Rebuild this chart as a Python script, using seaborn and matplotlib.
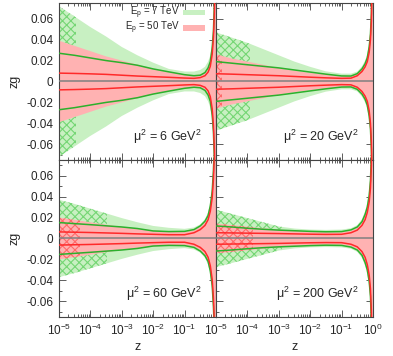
import numpy as np
import pandas as pd
import matplotlib
matplotlib.use("Agg")
import matplotlib.pyplot as plt
import seaborn as sns
from matplotlib.patches import Rectangle
from matplotlib.ticker import FixedLocator, LogLocator, NullFormatter, MultipleLocator

# ---------------- data ----------------
log10_z = [-5, -4.5, -4, -3.5, -3, -2.5, -2, -1.5, -1, -0.7, -0.5, -0.35,
           -0.25, -0.18, -0.12, -0.08, -0.05, -0.03, -0.015, 0]

mu2_values = ["6", "20", "60", "200"]

# half widths (upper edge; the lower edge is the mirror image)
green_band_mu6 = [0.072, 0.062, 0.052, 0.043, 0.033, 0.025, 0.018, 0.012, 0.0095, 0.0095,
                  0.011, 0.014, 0.019, 0.025, 0.036, 0.052, 0.08, 0.12, 0.22, 0.5]
red_band_mu6 = [0.039, 0.034, 0.029, 0.024, 0.02, 0.016, 0.012, 0.0088, 0.0068, 0.0062,
                0.0065, 0.009, 0.0135, 0.0195, 0.03, 0.046, 0.072, 0.115, 0.21, 0.5]
green_line_mu6 = [0.027, 0.025, 0.0225, 0.02, 0.018, 0.0155, 0.012, 0.0092, 0.0065, 0.0055,
                  0.006, 0.0085, 0.013, 0.019, 0.032, 0.048, 0.075, 0.115, 0.2, 0.5]
red_line_mu6 = [0.008, 0.0077, 0.0073, 0.0068, 0.006, 0.0052, 0.0046, 0.004, 0.0033, 0.003,
                0.0037, 0.0055, 0.009, 0.0145, 0.026, 0.042, 0.066, 0.105, 0.19, 0.5]

green_band_mu20 = [0.047, 0.042, 0.037, 0.031, 0.025, 0.019, 0.014, 0.0097, 0.0075, 0.0075,
                   0.0095, 0.0145, 0.02, 0.026, 0.037, 0.05, 0.072, 0.11, 0.2, 0.5]
red_band_mu20 = [0.026, 0.022, 0.019, 0.016, 0.0128, 0.0102, 0.0083, 0.0068, 0.0057, 0.0054,
                 0.0072, 0.0115, 0.0165, 0.022, 0.032, 0.044, 0.064, 0.1, 0.19, 0.5]
green_line_mu20 = [0.019, 0.0175, 0.016, 0.0145, 0.013, 0.011, 0.009, 0.007, 0.0053, 0.0052,
                   0.0075, 0.012, 0.017, 0.0227, 0.033, 0.045, 0.065, 0.1, 0.18, 0.5]
red_line_mu20 = [0.0074, 0.007, 0.0065, 0.006, 0.0055, 0.0048, 0.0041, 0.0035, 0.003, 0.0032,
                 0.0055, 0.0095, 0.014, 0.019, 0.028, 0.04, 0.058, 0.092, 0.18, 0.5]

green_band_mu60 = [0.037, 0.033, 0.0285, 0.024, 0.0195, 0.0155, 0.012, 0.0102, 0.0092, 0.0105,
                   0.0135, 0.0185, 0.025, 0.034, 0.049, 0.07, 0.1, 0.15, 0.23, 0.5]
red_band_mu60 = [0.02, 0.0178, 0.0155, 0.0132, 0.011, 0.0092, 0.0078, 0.0068, 0.0062, 0.0082,
                 0.0115, 0.016, 0.0215, 0.03, 0.044, 0.063, 0.09, 0.14, 0.22, 0.5]
green_line_mu60 = [0.0152, 0.0142, 0.0132, 0.0121, 0.011, 0.0095, 0.0072, 0.0066, 0.0068, 0.0085,
                   0.012, 0.0165, 0.022, 0.031, 0.045, 0.065, 0.09, 0.14, 0.22, 0.5]
red_line_mu60 = [0.0063, 0.006, 0.0057, 0.0053, 0.0049, 0.0044, 0.004, 0.0036, 0.0036, 0.0055,
                 0.0085, 0.0125, 0.018, 0.026, 0.039, 0.057, 0.082, 0.12, 0.2, 0.5]

green_band_mu200 = [0.0275, 0.0235, 0.0195, 0.0155, 0.0115, 0.0095, 0.0085, 0.0082, 0.0085, 0.0098,
                    0.0128, 0.0185, 0.026, 0.034, 0.046, 0.062, 0.09, 0.135, 0.22, 0.5]
red_band_mu200 = [0.0143, 0.0128, 0.0113, 0.0098, 0.0085, 0.0074, 0.0065, 0.006, 0.006, 0.0075,
                  0.0105, 0.0155, 0.022, 0.029, 0.04, 0.054, 0.079, 0.12, 0.2, 0.5]
green_line_mu200 = [0.012, 0.011, 0.0098, 0.0088, 0.008, 0.0074, 0.0068, 0.0064, 0.0066, 0.0082,
                    0.011, 0.016, 0.023, 0.03, 0.041, 0.055, 0.08, 0.12, 0.2, 0.5]
red_line_mu200 = [0.0055, 0.0053, 0.0051, 0.0049, 0.0047, 0.0044, 0.0041, 0.0039, 0.004, 0.0055,
                  0.008, 0.0125, 0.018, 0.025, 0.035, 0.048, 0.07, 0.11, 0.19, 0.5]

# log10(z) where the hatched (extrapolated) regions end
green_hatch_end = [-4.46, -3.92, -3.47, -2.9]
red_hatch_end = [None, -4.8, -4.34, -3.81]

legend_labels = ["E$_\\mathrm{p}$ = 7 TeV", "E$_\\mathrm{p}$ = 50 TeV"]
xtick_labels = ["$10^{-5}$", "$10^{-4}$", "$10^{-3}$", "$10^{-2}$", "$10^{-1}$", "$10^{0}$"]
ytick_values = [-0.06, -0.04, -0.02, 0, 0.02, 0.04, 0.06]
ytick_labels = ["-0.06", "-0.04", "-0.02", "0", "0.02", "0.04", "0.06"]

# ---------------- style ----------------
sns.set_style("ticks")
plt.rcParams["font.family"] = ["Liberation Sans", "DejaVu Sans"]
plt.rcParams["mathtext.fontset"] = "custom"
plt.rcParams["mathtext.rm"] = "Liberation Sans"
plt.rcParams["mathtext.it"] = "Liberation Sans:italic"
plt.rcParams["mathtext.bf"] = "Liberation Sans:bold"
plt.rcParams["hatch.linewidth"] = 0.8

GREEN_FILL = "#c8f0c2"
RED_FILL = "#ffb2b2"
GREEN_LINE = "#2cb02c"
RED_LINE = "#ff2a2a"
GREEN_HATCH = "#74d674"
RED_HATCH = "#ff6a6a"
FRAME = "#444444"

panels = [
    (green_band_mu6, red_band_mu6, green_line_mu6, red_line_mu6),
    (green_band_mu20, red_band_mu20, green_line_mu20, red_line_mu20),
    (green_band_mu60, red_band_mu60, green_line_mu60, red_line_mu60),
    (green_band_mu200, red_band_mu200, green_line_mu200, red_line_mu200),
]

z = 10.0 ** np.array(log10_z)

fig, axes = plt.subplots(2, 2, figsize=(3.93, 3.56), dpi=100)
fig.subplots_adjust(left=0.150, right=0.949, top=0.9916, bottom=0.1096,
                    wspace=0, hspace=0)


def hatch(ax, lo, hi, xend, color):
    coll = ax.fill_between(z, lo, hi, facecolor="none", edgecolor=color,
                           hatch="xxxx", linewidth=0, zorder=2)
    clip = Rectangle((1e-5, -1), 10.0 ** xend - 1e-5, 2, transform=ax.transData)
    coll.set_clip_path(clip)


for i, ax in enumerate(axes.flat):
    gb, rb, gl, rl = (np.array(a) for a in panels[i])
    ax.set_xscale("log")
    ax.fill_between(z, -gb, gb, color=GREEN_FILL, linewidth=0, zorder=1)
    ax.fill_between(z, -rb, rb, color=RED_FILL, linewidth=0, zorder=1.5)
    hatch(ax, rb, gb, green_hatch_end[i], GREEN_HATCH)
    hatch(ax, -gb, -rb, green_hatch_end[i], GREEN_HATCH)
    if red_hatch_end[i] is not None:
        hatch(ax, -rb, rb, red_hatch_end[i], RED_HATCH)
    ax.axhline(0, color="#808080", lw=1.1, zorder=3)
    df = pd.DataFrame({"z": z, "gl": gl, "rl": rl})
    for sign in (1, -1):
        sns.lineplot(x=df["z"], y=sign * df["gl"], ax=ax, color=GREEN_LINE,
                     lw=1.1, estimator=None, sort=False, zorder=4)
        sns.lineplot(x=df["z"], y=sign * df["rl"], ax=ax, color=RED_LINE,
                     lw=1.1, estimator=None, sort=False, zorder=5)

    ax.set_xlim(1e-5, 1)
    ax.set_ylim(-0.075, 0.075)
    ax.xaxis.set_major_locator(FixedLocator(10.0 ** np.arange(-5, 1)))
    ax.xaxis.set_minor_locator(LogLocator(base=10, subs=np.arange(2, 10), numticks=20))
    ax.xaxis.set_minor_formatter(NullFormatter())
    ax.set_yticks(ytick_values)
    ax.yaxis.set_minor_locator(MultipleLocator(0.01))
    ax.tick_params(which="both", direction="in", top=True, right=True,
                   color=FRAME, width=0.6, labelsize=8.5, pad=4)
    ax.tick_params(which="major", length=5)
    ax.tick_params(which="minor", length=2.5)
    for s in ax.spines.values():
        s.set_color(FRAME)
        s.set_linewidth(0.8)
    row, col = divmod(i, 2)
    if col == 0:
        ax.set_yticklabels(ytick_labels)
        ax.set_ylabel("zg", fontsize=9, labelpad=4)
    else:
        ax.tick_params(labelleft=False)
        ax.set_ylabel("")
    if row == 1:
        labels = xtick_labels if col == 1 else xtick_labels[:-1] + [""]
        ax.set_xticklabels(labels)
        ax.set_xlabel("z", fontsize=9, labelpad=2)
    else:
        ax.tick_params(labelbottom=False)
        ax.set_xlabel("")
    ax.text(0.91, 0.15, "μ$^2$ = " + mu2_values[i] + " GeV$^2$",
            transform=ax.transAxes, ha="right", va="center", fontsize=9, zorder=6)

# legend in the first panel (text, then swatch)
ax0 = axes[0, 0]
for k, (lab, colr) in enumerate(zip(legend_labels, [GREEN_FILL, RED_FILL])):
    yc = 0.94 - k * 0.1
    ax0.text(0.77, yc, lab, transform=ax0.transAxes, ha="right", va="center",
             fontsize=7, zorder=7)
    ax0.add_patch(Rectangle((0.79, yc - 0.017), 0.14, 0.034, transform=ax0.transAxes,
                            facecolor=colr, edgecolor="none", zorder=7))

fig.savefig("out.png", dpi=100)
